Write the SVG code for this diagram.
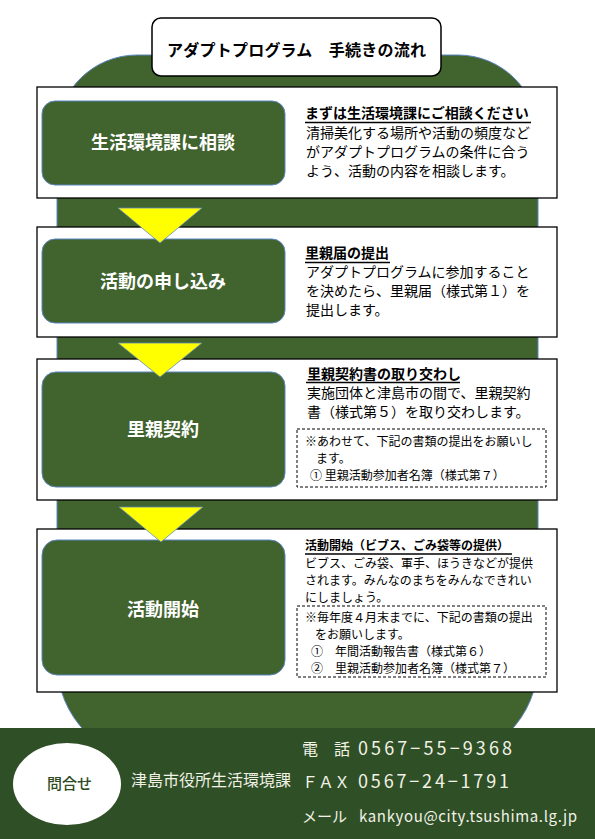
<svg xmlns="http://www.w3.org/2000/svg" width="595" height="839" viewBox="0 0 595 839">
<style>
.jp{font-family:"Noto Sans CJK JP","Noto Sans",sans-serif;}
.box{fill:#fff;stroke:#000;stroke-width:1.3;}
.inner{fill:#41632e;stroke:#5b86c0;stroke-width:1;}
.lbl{font-family:"Noto Sans CJK JP",sans-serif;font-weight:700;font-size:18px;fill:#fff;text-anchor:middle;}
.ttl{font-family:"Noto Sans CJK JP",sans-serif;font-weight:700;font-size:14px;fill:#000;}
.ttl12{font-family:"Noto Sans CJK JP",sans-serif;font-weight:700;font-size:12px;fill:#000;}
.body{font-family:"Noto Sans CJK JP",sans-serif;font-size:14px;fill:#000;}
.small{font-family:"Noto Sans CJK JP",sans-serif;font-size:12px;fill:#000;}
.ul{stroke:#000;stroke-width:1.3;}
.dash{fill:none;stroke:#000;stroke-width:1;stroke-dasharray:3,2;}
.tri{fill:#ffff00;stroke:#5b86c0;stroke-width:0.8;}
.ft{font-family:"Noto Sans CJK JP",sans-serif;fill:#f2f2e6;}
</style>
<rect width="595" height="839" fill="#fff"/>
<path d="M137,55 H458 A80,80 0 0 1 538,135 V662 A100,100 0 0 1 438,762 H157 A100,100 0 0 1 57,662 V135 A80,80 0 0 1 137,55 Z" fill="#41632e" stroke="#5b86c0" stroke-width="1"/>

<g id="title">
<rect x="152" y="18" width="289" height="58" rx="9" fill="#fff" stroke="#000" stroke-width="1.5"/>
<text x="296.5" y="56" class="jp" font-size="16" font-weight="700" text-anchor="middle" textLength="259">アダプトプログラム　手続きの流れ</text>
</g>

<g id="step1">
<rect class="box" x="37" y="87" width="520" height="111"/>
<rect class="inner" x="42" y="101" width="243" height="84" rx="13"/>
<text class="lbl" x="163" y="149">生活環境課に相談</text>
<text class="ttl" x="305" y="118">まずは生活環境課にご相談ください</text>
<line class="ul" x1="305" y1="122.5" x2="531" y2="122.5"/>
<text class="body" x="306" y="138">清掃美化する場所や活動の頻度など</text>
<text class="body" x="306" y="157">がアダプトプログラムの条件に合う</text>
<text class="body" x="306" y="176">よう、活動の内容を相談します。</text>
</g>

<g id="step2">
<rect class="box" x="37" y="227" width="520" height="110"/>
<rect class="inner" x="42" y="239" width="243" height="84" rx="13"/>
<text class="lbl" x="163" y="288">活動の申し込み</text>
<text class="ttl" x="305" y="258">里親届の提出</text>
<line class="ul" x1="305" y1="262.5" x2="390" y2="262.5"/>
<text class="body" x="306" y="277">アダプトプログラムに参加すること</text>
<text class="body" x="306" y="296">を決めたら、里親届（様式第１）を</text>
<text class="body" x="306" y="315">提出します。</text>
</g>

<g id="step3">
<rect class="box" x="37" y="359" width="520" height="141"/>
<rect class="inner" x="42" y="372" width="243" height="115" rx="14"/>
<text class="lbl" x="163" y="436">里親契約</text>
<text class="ttl" x="307" y="379">里親契約書の取り交わし</text>
<line class="ul" x1="306" y1="382.5" x2="460" y2="382.5"/>
<text class="body" x="307" y="398">実施団体と津島市の間で、里親契約</text>
<text class="body" x="307" y="417">書（様式第５）を取り交わします。</text>
<rect class="dash" x="297" y="429" width="249" height="58"/>
<text class="small" x="305" y="446">※あわせて、下記の書類の提出をお願いし</text>
<text class="small" x="316" y="463">ます。</text>
<text class="small" x="310" y="480">①  里親活動参加者名簿（様式第７）</text>
</g>

<g id="step4">
<rect class="box" x="37" y="529" width="520" height="163"/>
<rect class="inner" x="42" y="540" width="243" height="135" rx="15"/>
<text class="lbl" x="163" y="616">活動開始</text>
<text class="ttl12" x="305" y="550">活動開始（ビブス、ごみ袋等の提供）</text>
<line class="ul" x1="305" y1="554" x2="512" y2="554"/>
<text class="small" x="305" y="568">ビブス、ごみ袋、軍手、ほうきなどが提供</text>
<text class="small" x="305" y="585">されます。みんなのまちをみんなできれい</text>
<text class="small" x="305" y="602">にしましょう。</text>
<rect class="dash" x="297" y="606" width="249" height="71"/>
<text class="small" x="305" y="622">※毎年度４月末までに、下記の書類の提出</text>
<text class="small" x="315" y="639">をお願いします。</text>
<text class="small" x="311" y="656">①　年間活動報告書（様式第６）</text>
<text class="small" x="311" y="673">②　里親活動参加者名簿（様式第７）</text>
</g>

<g id="connectors">
<polygon class="tri" points="118,208 202,208 160,243"/>
<polygon class="tri" points="118,343 202,343 160,377"/>
<polygon class="tri" points="119,507 203,507 161,542"/>
</g>

<g id="footer">
<rect x="0" y="728" width="595" height="111" fill="#2f4f26"/>
<ellipse cx="67" cy="784" rx="54" ry="41" fill="#fff"/>
<text x="69.5" y="789" class="jp" font-size="15" font-weight="500" fill="#2e4a22" text-anchor="middle">問合せ</text>
<text x="131" y="786" class="ft" font-size="16">津島市役所生活環境課</text>
<text x="302" y="755" class="ft" font-size="16">電　話</text>
<text x="358" y="755" class="ft" font-size="18" textLength="154">0567−55−9368</text>
<text x="302" y="788" class="ft" font-size="16">ＦＡＸ</text>
<text x="358" y="788" class="ft" font-size="18" textLength="151">0567−24−1791</text>
<text x="302" y="822" class="ft" font-size="15">メール</text>
<text x="359" y="822" class="ft" font-size="15" textLength="218">kankyou@city.tsushima.lg.jp</text>
</g>
</svg>
